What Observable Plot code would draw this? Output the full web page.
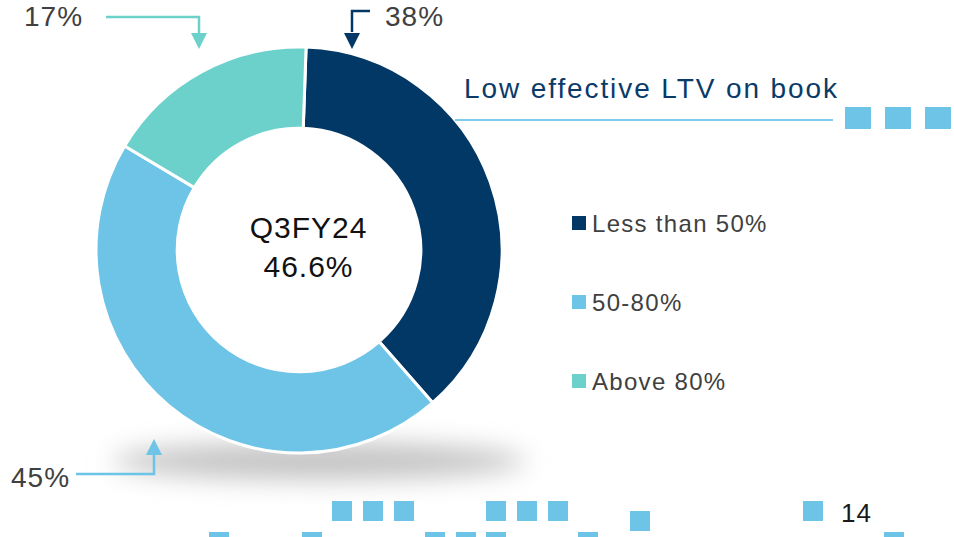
<!DOCTYPE html>
<html>
<head>
<meta charset="utf-8">
<script src="https://cdn.jsdelivr.net/npm/d3@7"></script>
<script src="https://cdn.jsdelivr.net/npm/@observablehq/plot@0.6"></script>
<style>
  html, body { margin: 0; padding: 0; background: #fff; }
  #wrap { position: relative; width: 954px; height: 537px; overflow: hidden;
          font-family: "Liberation Sans", Arial, sans-serif; }
  #wrap svg text { letter-spacing: 1px; }
  .abs { position: absolute; white-space: nowrap; }
  .pct { font-size: 28px; color: #404040; letter-spacing: 1px; line-height: 1; }
  .title { font-size: 28px; color: #0A3B68; letter-spacing: 1.9px; line-height: 1; }
  .leg { font-size: 24px; color: #404040; letter-spacing: 1.3px; line-height: 1; }
  .sq { position: absolute; background: #6EC4E6; }
</style>
</head>
<body>
<div id="wrap"></div>
<script>
// ---- data ----
const categories = ["Less than 50%", "50-80%", "Above 80%"];
const shares = [38, 45, 17];
const shareLabels = ["38%", "45%", "17%"];
const colors = ["#023865", "#6EC4E6", "#6DD1CB"];
const centerTitle = "Q3FY24";
const centerValue = "46.6%";
const chartTitle = "Low effective LTV on book";
const pageNumber = "14";

const data = categories.map((c, i) => ({category: c, value: shares[i]}));
const startAngle = 2 * Math.PI / 180;
const innerRatio = 0.6;
const slices = d3.pie().value(d => d.value).sort(null).startAngle(startAngle).endAngle(startAngle + 2 * Math.PI)(data);

const wrap = document.getElementById("wrap");

const chart = Plot.plot({
  width: 954,
  height: 537,
  margin: 0,
  style: {fontFamily: "'Liberation Sans', Arial, sans-serif", background: "transparent", overflow: "visible"},
  x: {domain: [-1, 1], range: [96, 502], axis: null},
  y: {domain: [-1, 1], range: [453, 47], axis: null},
  color: {domain: categories, range: colors},
  marks: [
    Plot.dot(slices, {
      x: () => 0, y: () => 0, fill: d => d.data.category,
      render: (index, scales, values) => {
        const cx = scales.x(0), cy = scales.y(0);
        const R = scales.x(1) - cx;
        const arc = d3.arc().innerRadius(R * innerRatio).outerRadius(R);
        const g = d3.create("svg:g");
        const fid = "shadowBlur";
        g.append("defs").append("filter").attr("id", fid)
          .attr("x", "-50%").attr("y", "-300%").attr("width", "200%").attr("height", "700%")
          .append("feGaussianBlur").attr("stdDeviation", 13);
        g.append("ellipse")
          .attr("cx", cx + R * 0.1).attr("cy", cy + R * 1.04)
          .attr("rx", R * 1.02).attr("ry", R * 0.09)
          .attr("fill", "#c2c2c2").attr("filter", `url(#${fid})`);
        g.append("g").attr("transform", `translate(${cx},${cy})`)
          .selectAll("path").data(index).join("path")
          .attr("d", i => arc(slices[i]))
          .attr("fill", i => values.fill[i])
          .attr("stroke", "#fff").attr("stroke-width", 3)
          .attr("stroke-linejoin", "round");
        return g.node();
      }
    }),
    Plot.text([centerTitle + "\n" + centerValue], {
      x: () => 0, y: () => 0, text: d => d, dx: 9, dy: -5,
      fontSize: 30, lineHeight: 1.3, fill: "#111", textAnchor: "middle", lineAnchor: "middle"
    })
  ]
});
chart.style.position = "absolute";
chart.style.left = "0px";
chart.style.top = "0px";
wrap.appendChild(chart);

// ---- annotation overlay (callouts, title rule) ----
const ov = d3.select(wrap).append("svg")
  .attr("width", 954).attr("height", 537)
  .style("position", "absolute").style("left", "0px").style("top", "0px");

function callout(pts, tip, dir, color) {
  ov.append("path").attr("d", d3.line()(pts)).attr("fill", "none")
    .attr("stroke", color).attr("stroke-width", 2.5);
  const [tx, ty] = tip;
  const h = 16, w = 8;
  const tri = dir === "down"
    ? [[tx - w, ty - h], [tx + w, ty - h], [tx, ty]]
    : [[tx - w, ty + h], [tx + w, ty + h], [tx, ty]];
  ov.append("path").attr("d", d3.line()(tri) + "Z").attr("fill", color);
}
callout([[106, 17], [199, 17], [199, 36]], [199, 49], "down", colors[2]);
callout([[370, 11], [352, 11], [352, 32]], [352, 49], "down", colors[0]);
callout([[76, 474], [154, 474], [154, 452]], [154, 439], "up", colors[1]);
ov.append("line").attr("x1", 455).attr("x2", 833).attr("y1", 120).attr("y2", 120)
  .attr("stroke", "#7ECBEA").attr("stroke-width", 2.2);

function label(text, cls, left, top, color) {
  const el = document.createElement("div");
  el.className = "abs " + cls;
  el.textContent = text;
  el.style.left = left + "px";
  el.style.top = top + "px";
  if (color) el.style.color = color;
  wrap.appendChild(el);
  return el;
}
label(shareLabels[2], "pct", 24, 3);
label(shareLabels[0], "pct", 385, 3);
label(shareLabels[1], "pct", 11, 464);
label(chartTitle, "title", 464, 75);

// legend
categories.forEach((c, i) => {
  const top = 216 + i * 79;
  const s = document.createElement("div");
  s.className = "sq";
  s.style.left = "572px"; s.style.top = top + "px";
  s.style.width = "14px"; s.style.height = "14px";
  s.style.background = colors[i];
  wrap.appendChild(s);
  label(c, "leg", 592, top - 4);
});

// decorative squares from the slide template
const decor = [
  [845,107,26,22],[885,107,26,22],[925,107,26,22],
  [332,501,20,20],[363,501,20,20],[394,501,20,20],
  [486,501,20,20],[517,501,20,20],[548,501,20,20],
  [630,511,20,20],[803,501,20,20],
  [209,532,20,8],[302,532,20,8],[425,532,20,8],[456,532,20,8],
  [486,532,20,8],[578,532,20,8],[884,532,20,8]
];
decor.forEach(([l, t, w, h]) => {
  const s = document.createElement("div");
  s.className = "sq";
  s.style.left = l + "px"; s.style.top = t + "px";
  s.style.width = w + "px"; s.style.height = h + "px";
  wrap.appendChild(s);
});
label(pageNumber, "pct", 841, 500, "#1a1a1a").style.fontSize = "26px";
</script>
</body>
</html>
